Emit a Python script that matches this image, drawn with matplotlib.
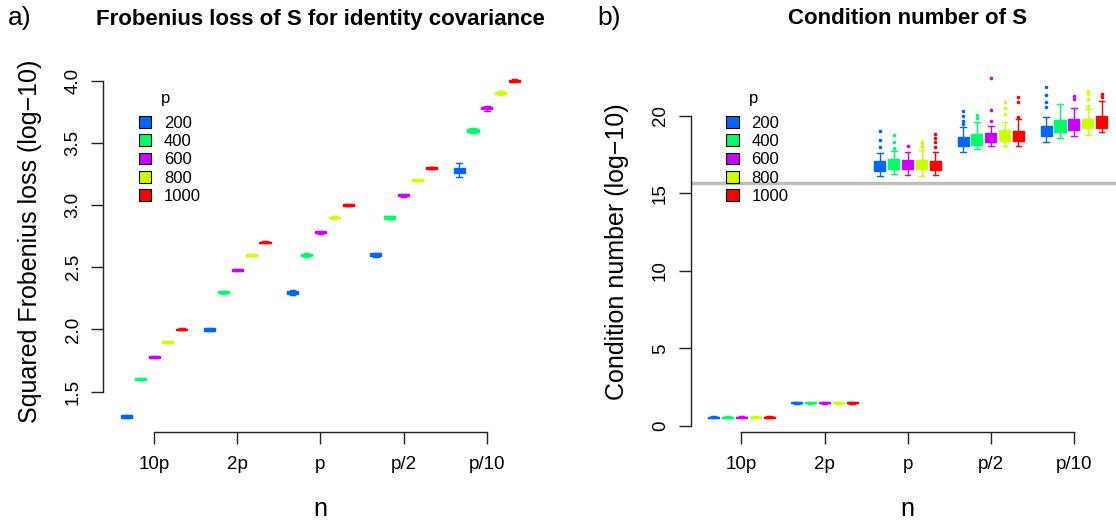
import matplotlib
matplotlib.use("Agg")
import matplotlib.pyplot as plt
from matplotlib.patches import Patch

plt.rcParams['font.family'] = ['Liberation Sans', 'DejaVu Sans']

n_labels = ["10p", "2p", "p", "p/2", "p/10"]
p_values = ["200", "400", "600", "800", "1000"]
p_colors = ["#0066FF", "#00FF66", "#CC00FF", "#CCFF00", "#FF0000"]

# a) squared Frobenius loss (log10): median, half box height, half whisker span
# rows = n (10p, 2p, p, p/2, p/10), columns = p (200 ... 1000)
loss_med = [[1.30, 1.60, 1.78, 1.90, 2.00],
            [2.00, 2.30, 2.48, 2.60, 2.70],
            [2.30, 2.60, 2.78, 2.90, 3.00],
            [2.60, 2.90, 3.08, 3.20, 3.30],
            [3.28, 3.60, 3.78, 3.90, 4.00]]
loss_box = [[0.010, 0.008, 0.007, 0.007, 0.007],
            [0.010, 0.008, 0.007, 0.007, 0.007],
            [0.012, 0.010, 0.008, 0.007, 0.007],
            [0.012, 0.010, 0.008, 0.007, 0.007],
            [0.022, 0.012, 0.010, 0.008, 0.007]]
loss_whisk = [[0.014, 0.010, 0.008, 0.008, 0.008],
              [0.014, 0.012, 0.010, 0.008, 0.008],
              [0.020, 0.014, 0.012, 0.010, 0.008],
              [0.018, 0.014, 0.012, 0.010, 0.008],
              [0.055, 0.020, 0.020, 0.014, 0.010]]

# b) condition number of S (log10)
cond_q1 = [[0.52, 0.52, 0.52, 0.52, 0.52],
           [1.46, 1.46, 1.46, 1.46, 1.46],
           [16.46, 16.57, 16.57, 16.57, 16.52],
           [18.04, 18.14, 18.30, 18.40, 18.40],
           [18.69, 18.95, 19.11, 19.22, 19.22]]
cond_q3 = [[0.60, 0.60, 0.60, 0.60, 0.60],
           [1.54, 1.54, 1.54, 1.54, 1.54],
           [17.10, 17.22, 17.13, 17.13, 17.09],
           [18.66, 18.83, 18.90, 19.11, 19.05],
           [19.33, 19.74, 19.80, 19.80, 20.02]]
cond_lo = [[0.49, 0.49, 0.49, 0.49, 0.49],
           [1.43, 1.43, 1.43, 1.43, 1.43],
           [16.10, 16.25, 16.18, 16.14, 16.18],
           [17.69, 17.86, 18.04, 18.04, 18.04],
           [18.34, 18.56, 18.69, 18.77, 18.98]]
cond_hi = [[0.63, 0.63, 0.63, 0.63, 0.63],
           [1.57, 1.57, 1.57, 1.57, 1.57],
           [17.59, 17.75, 17.70, 17.82, 17.70],
           [19.29, 19.59, 19.37, 19.59, 19.80],
           [19.92, 20.78, 20.52, 20.45, 20.99]]
cond_out = [[[], [], [], [], []],
            [[], [], [], [], []],
            [[18.00, 18.45, 19.05], [17.95, 18.30, 18.80], [18.08],
             [18.00, 18.15, 18.30], [17.97, 18.30, 18.60, 18.83]],
            [[19.48, 19.70, 19.98, 20.30], [19.90, 20.06], [19.68, 20.40, 22.44],
             [20.13, 20.50, 20.93], [19.92, 20.89, 21.21]],
            [[20.60, 20.89, 21.36, 21.90], [], [21.10, 21.27],
             [20.67, 21.10, 21.42, 21.64], [21.21, 21.42]]]
machine_eps_line = 15.65

W, H = 1116, 523
fig = plt.figure(figsize=(W / 100, H / 100), dpi=100)


def px_rect(left, top, right, bottom):
    return [left / W, 1 - bottom / H, (right - left) / W, (bottom - top) / H]


def px_text(x, y, s, **kw):
    fig.text(x / W, 1 - y / H, s, ha="center", va="center", **kw)


ax_a = fig.add_axes(px_rect(103.3, 67, 537.6, 431.7))
ax_b = fig.add_axes(px_rect(690.7, 67, 1124.6, 431.7))

positions = [[g * 6 + k + 1 for k in range(5)] for g in range(5)]
tick_pos = [g * 6 + 3 for g in range(5)]


def draw_box(ax, pos, color, stats):
    ax.bxp([stats], positions=[pos], widths=0.8, capwidths=0.4,
           patch_artist=True, manage_ticks=False,
           boxprops=dict(facecolor=color, edgecolor=color, linewidth=1),
           whiskerprops=dict(color=color, linewidth=1),
           capprops=dict(color=color, linewidth=1),
           medianprops=dict(color=color, linewidth=1),
           flierprops=dict(marker="o", markersize=2.6, markerfacecolor=color,
                           markeredgecolor=color, markeredgewidth=0,
                           linestyle="none"))


for g in range(5):
    for k in range(5):
        m, b, w = loss_med[g][k], loss_box[g][k], loss_whisk[g][k]
        draw_box(ax_a, positions[g][k], p_colors[k],
                 dict(med=m, q1=m - b, q3=m + b, whislo=m - w, whishi=m + w,
                      fliers=[]))
        q1, q3 = cond_q1[g][k], cond_q3[g][k]
        draw_box(ax_b, positions[g][k], p_colors[k],
                 dict(med=(q1 + q3) / 2, q1=q1, q3=q3, whislo=cond_lo[g][k],
                      whishi=cond_hi[g][k], fliers=cond_out[g][k]))

ax_b.axhline(machine_eps_line, color="#BEBEBE", linewidth=2.5, zorder=1)

ax_a.set_ylim(1.178, 4.11)
ax_a.set_yticks([1.5, 2.0, 2.5, 3.0, 3.5, 4.0])
ax_a.spines["left"].set_bounds(1.5, 4.0)
ax_b.set_ylim(-0.37, 23.16)
ax_b.set_yticks([0, 5, 10, 15, 20])
ax_b.spines["left"].set_bounds(0, 20)

for ax in (ax_a, ax_b):
    ax.set_xlim(-0.66, 30.66)
    ax.set_xticks(tick_pos, n_labels)
    ax.spines["bottom"].set_bounds(tick_pos[0], tick_pos[-1])
    for side in ("top", "right"):
        ax.spines[side].set_visible(False)
    for side in ("left", "bottom"):
        ax.spines[side].set_linewidth(1.0)
        ax.spines[side].set_color("#222222")
    ax.tick_params(length=8.6, width=1.0, color="#222222", labelsize=13.5)
    ax.tick_params(axis="x", pad=9)
    ax.tick_params(axis="y", pad=7)
    for lab in ax.get_yticklabels():
        lab.set_rotation(90)
        lab.set_va("center")
    handles = [Patch(facecolor=c, edgecolor="black", linewidth=0.8) for c in p_colors]
    ax.legend(handles, p_values, loc="upper left",
              bbox_to_anchor=(0.063, 0.889), frameon=False, fontsize=12,
              handlelength=0.75, handleheight=0.7,
              handletextpad=0.75, labelspacing=0.2, borderpad=0)

# legend titles, panel titles and axis labels
for x0 in (0, 587.4):
    px_text(x0 + 166, 98, "p", fontsize=12)
px_text(320.5, 19, "Frobenius loss of S for identity covariance",
        fontsize=16, fontweight="bold")
px_text(907.6, 19, "Condition number of S", fontsize=16, fontweight="bold")
px_text(20, 18, "a)", fontsize=19)
px_text(609, 18, "b)", fontsize=19)
px_text(30, 241, "Squared Frobenius loss (log\u221210)", fontsize=18, rotation=90)
px_text(617, 252, "Condition number (log\u221210)", fontsize=18, rotation=90)
px_text(320.5, 509, "n", fontsize=18)
px_text(907.6, 509, "n", fontsize=18)

fig.savefig("out.png", dpi=100)
